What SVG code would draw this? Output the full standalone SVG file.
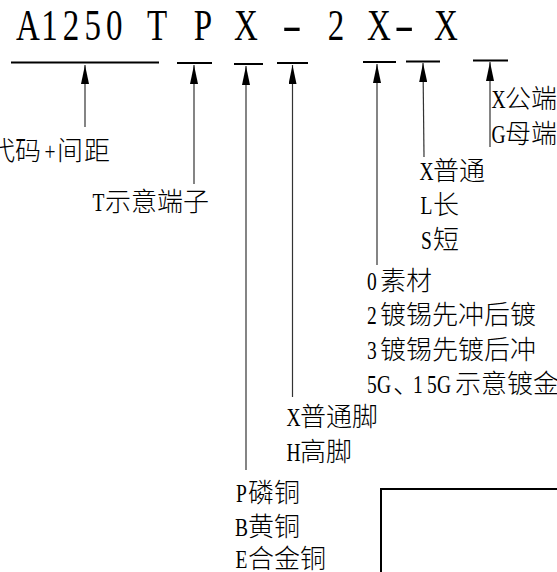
<svg xmlns="http://www.w3.org/2000/svg" width="557" height="572" viewBox="0 0 557 572">
<style>
.t{font-family:"Noto Sans CJK SC","Liberation Serif",serif;font-size:26px;font-weight:300;fill:#000;text-anchor:middle}
.l{font-family:"Liberation Serif",serif;font-size:26px;fill:#000;text-anchor:middle}
.ttl{font-family:"Liberation Serif",serif;font-size:44px;fill:#000;text-anchor:middle}
.ul{stroke:#000;stroke-width:2;fill:none}
.ar{stroke:#333;stroke-width:1.2;fill:none;marker-end:url(#ah)}
</style>
<defs>
<marker id="ah" viewBox="0 0 19 8" refX="19" refY="4" markerWidth="19" markerHeight="8" markerUnits="userSpaceOnUse" orient="auto">
<path d="M0,0 L19,4 L0,8 z" fill="#000"/>
</marker>
</defs>
<rect width="557" height="572" fill="#fff"/>
<g id="title">
<g transform="scale(0.75,1)">
<text class="ttl" y="40" x="37.1 65.9 94.7 123.5 152.3">A1250</text>
<text class="ttl" y="40" x="209.3">T</text>
<text class="ttl" y="40" x="270.7">P</text>
<text class="ttl" y="40" x="328">X</text>
<text class="ttl" y="40" x="448">2</text>
<text class="ttl" y="40" x="505.3">X</text>
<text class="ttl" y="40" x="594.7">X</text>
</g>
<g transform="scale(1.35,1)">
<text class="ttl" y="40" x="216.3">-</text>
<text class="ttl" y="40" x="299.3">-</text>
</g>
</g>
<g id="underlines">
<line class="ul" x1="11" y1="62.5" x2="159" y2="62.5"/>
<line class="ul" x1="177" y1="63" x2="212" y2="63"/>
<line class="ul" x1="234" y1="64" x2="263" y2="64"/>
<line class="ul" x1="277" y1="63" x2="308" y2="63"/>
<line class="ul" x1="363" y1="62" x2="396" y2="62"/>
<line class="ul" x1="406" y1="61.5" x2="440" y2="61.5"/>
<line class="ul" x1="473" y1="60.5" x2="508" y2="60.5"/>
</g>
<g id="connectors">
<line class="ar" x1="85" y1="127" x2="85" y2="65"/>
<line class="ar" x1="194" y1="184" x2="194" y2="65"/>
<line class="ar" x1="246" y1="470" x2="246" y2="66"/>
<line class="ar" x1="292.5" y1="397" x2="292.5" y2="65"/>
<line class="ar" x1="377" y1="265" x2="377" y2="64"/>
<line class="ar" x1="424" y1="157" x2="423" y2="63"/>
<line class="ar" x1="490" y1="147" x2="490" y2="62"/>
</g>
<g id="code-label">
<text class="t" y="160" x="2 28">代码</text>
<text class="l" y="160" x="66.7" transform="scale(0.75,1)">+</text>
<text class="t" y="160" x="70 97">间距</text>
</g>
<g id="t-label">
<text class="l" y="211" x="131.3" transform="scale(0.75,1)">T</text>
<text class="t" y="211" x="118 144 170 196">示意端子</text>
</g>
<g id="pin-label">
<g transform="scale(0.75,1)">
<text class="l" y="108" x="664.7">X</text>
<text class="l" y="143" x="664.7">G</text>
</g>
<text class="t" y="108" x="518 544">公端</text>
<text class="t" y="143" x="518 544">母端</text>
</g>
<g id="length-label">
<g transform="scale(0.75,1)">
<text class="l" y="180" x="568.7">X</text>
<text class="l" y="214" x="568.7">L</text>
<text class="l" y="249" x="568.7">S</text>
</g>
<text class="t" y="180" x="446 472">普通</text>
<text class="t" y="214" x="446">长</text>
<text class="t" y="249" x="446">短</text>
</g>
<g id="plating-label">
<g transform="scale(0.75,1)">
<text class="l" y="290" x="496">0</text>
<text class="l" y="324" x="496">2</text>
<text class="l" y="359" x="496">3</text>
<text class="l" y="393" x="496 512">5G</text>
<text class="l" y="393" x="557.3 576 592">15G</text>
</g>
<text class="t" y="290" x="393 419">素材</text>
<text class="t" y="324" x="393 419 445 471 497 523">镀锡先冲后镀</text>
<text class="t" y="359" x="393 419 445 471 497 523">镀锡先镀后冲</text>
<text class="t" y="393" x="406">、</text>
<text class="t" y="393" x="468 494 520 546">示意镀金</text>
</g>
<g id="foot-label">
<g transform="scale(0.75,1)">
<text class="l" y="426" x="391.3">X</text>
<text class="l" y="461" x="391.3">H</text>
</g>
<text class="t" y="426" x="313 339 365">普通脚</text>
<text class="t" y="461" x="313 339">高脚</text>
</g>
<g id="material-label">
<g transform="scale(0.75,1)">
<text class="l" y="502" x="322">P</text>
<text class="l" y="536" x="322">B</text>
<text class="l" y="568" x="322">E</text>
</g>
<text class="t" y="502" x="261 287">磷铜</text>
<text class="t" y="536" x="261 287">黄铜</text>
<text class="t" y="568" x="261 287 313">合金铜</text>
</g>
<g id="box">
<rect x="381" y="489" width="200" height="100" fill="none" stroke="#000" stroke-width="2"/>
</g>
</svg>
